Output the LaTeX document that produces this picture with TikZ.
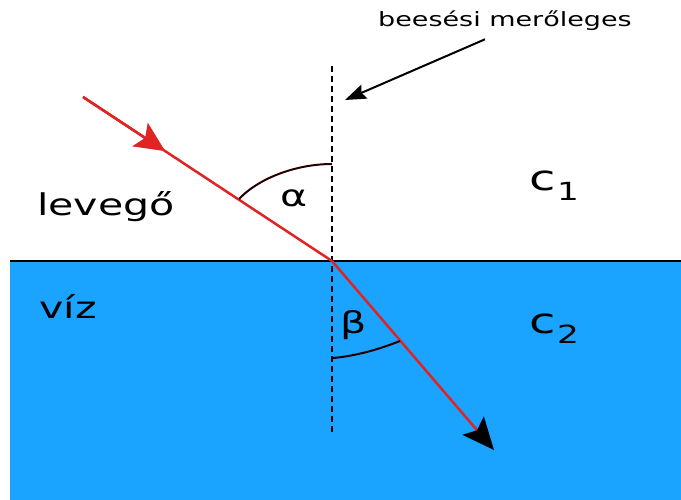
\documentclass[tikz,border=0pt]{standalone}
\usepackage{fontspec}
\setmainfont{DejaVu Sans}
\usetikzlibrary{arrows.meta,calc}
\definecolor{viz}{RGB}{26,163,255}
\definecolor{sugar}{RGB}{224,36,36}

\begin{document}
\begin{tikzpicture}[x=1pt,y=-1pt,
  lbl/.style={inner sep=0pt,anchor=base,xscale=1.37,font=\fontsize{30}{34}\selectfont},
  seb/.style={inner sep=0pt,anchor=base west,xscale=1.37,font=\fontsize{35}{40}\selectfont},
  ray/.style={draw=sugar,line width=2.5pt},
  szog/.style={draw=black!85!red,line width=2pt}]
  \useasboundingbox (0,0) rectangle (681,500);
  % water and surface
  \fill[viz] (10,261) rectangle (681,500);
  \coordinate (s1) at (10,261); \coordinate (s2) at (681,261);
  \draw[line width=2pt] (s1) -- (s2);
  % normal
  \coordinate (O) at (332,261);
  \coordinate (n1) at (332,66); \coordinate (n2) at (332,435);
  \draw[line width=1.5pt,dash pattern=on 6pt off 4pt] (n1) -- (n2);
  % rays
  \coordinate (A) at (83,97);
  \coordinate (B) at (494,450);
  \draw[ray] (A) -- (O);
  \draw[ray,-{Stealth[length=30pt,width=28pt,inset=6pt]}] (A) -- ($(A)!0.33!(O)$);
  \draw[ray,-{Stealth[black,length=32pt,width=28pt,inset=6pt]}] (O) -- (B);
  % angles
  \coordinate (a1) at (239,199); \coordinate (a2) at (332,164);
  \draw[szog] (a1) .. controls (260,177) and (298,164) .. (a2);
  \coordinate (b1) at (333,358); \coordinate (b2) at (400,341);
  \draw[szog] (b1) .. controls (356,356) and (380,349) .. (b2);
  \node[lbl] (alfa) at (294,207) {α};
  \node[lbl] (beta) at (354,333) {β};
  % labels
  \node[lbl] (lev) at (106,216) {levegő};
  \node[lbl] (viz) at (68,319) {víz};
  \node[seb] (c1) at (529,191) {c\hspace{1pt}\raisebox{-9.5pt}{\fontsize{25}{26}\selectfont 1}};
  \node[seb] (c2) at (529,334) {c\hspace{1pt}\raisebox{-9.5pt}{\fontsize{25}{26}\selectfont 2}};
  \node[lbl,font=\fontsize{19.7}{24}\selectfont] (cim) at (505,27) {beesési merőleges};
  \coordinate (mp) at (345,100);
  \draw[line width=2pt,-{Stealth[length=21pt,width=15pt,inset=3pt]}]
    ([xshift=-20pt,yshift=-8pt]cim.south) -- (mp);
\end{tikzpicture}
\end{document}
